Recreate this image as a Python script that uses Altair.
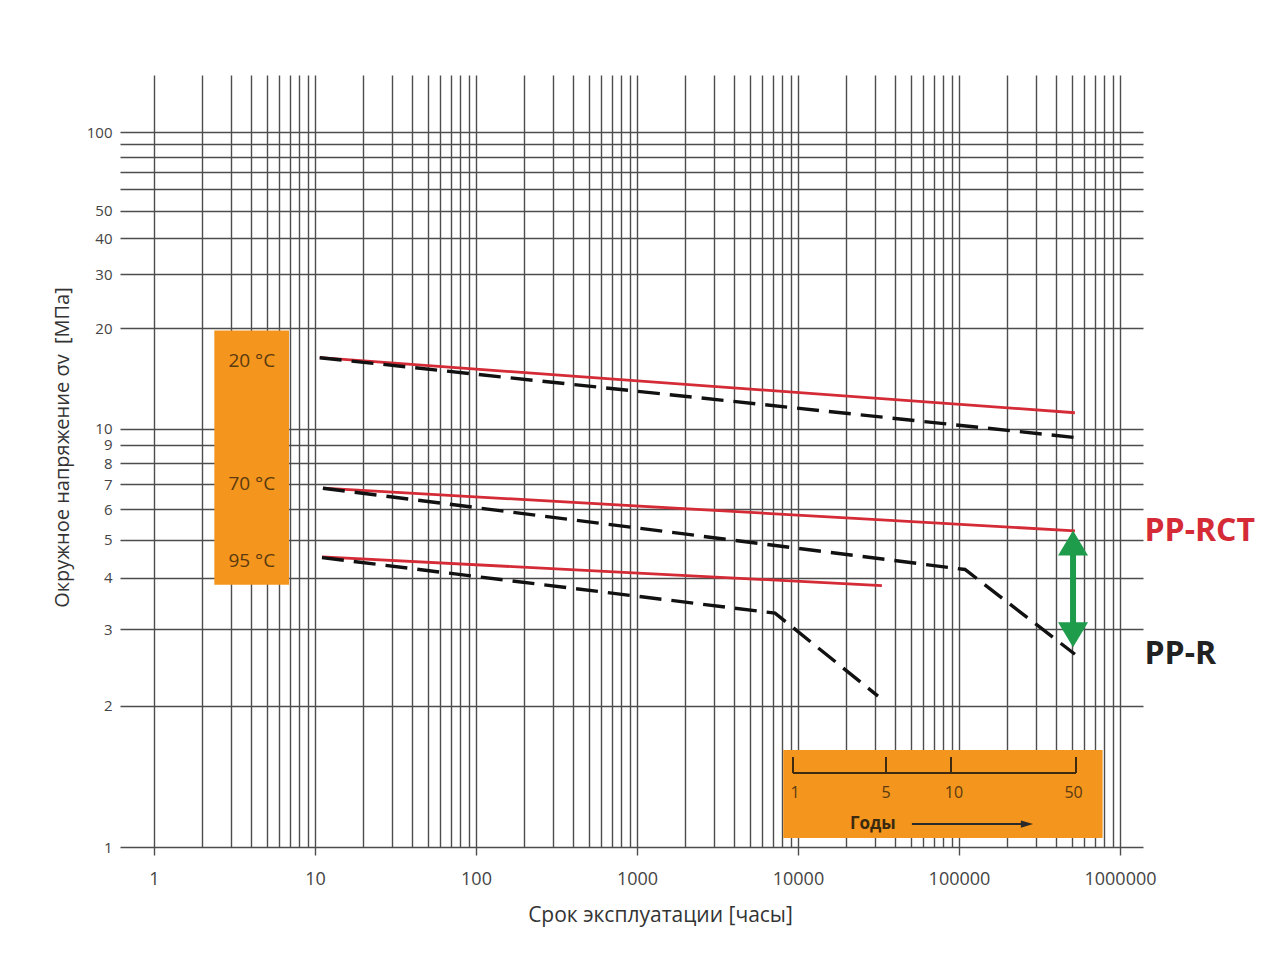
import altair as alt
import pandas as pd

# ---------------- data ----------------
temps = ["20 °C", "70 °C", "95 °C"]

# PP-RCT (red solid) – hours / hoop stress [MPa]
rct_hours = [[10.7, 525000], [11.2, 525000], [11.05, 33200]]
rct_stress = [[16.2, 11.1], [6.83, 5.27], [4.52, 3.83]]

# PP-R (black dashed) – hours / hoop stress [MPa]
ppr_hours = [[10.7, 525000], [11.2, 109000, 525000], [11.05, 7200, 31400]]
ppr_stress = [[16.2, 9.43], [6.83, 4.20, 2.62], [4.50, 3.28, 2.10]]

# axis ticks
x_decades = [1, 10, 100, 1000, 10000, 100000, 1000000]
x_grid = [m * d for d in [1, 10, 100, 1000, 10000, 100000] for m in range(1, 10)] + [1000000]
y_grid = [1, 2, 3, 4, 5, 6, 7, 8, 9, 10, 20, 30, 40, 50, 60, 70, 80, 90, 100]
y_hidden = [60, 70, 80, 90]

# temperature box (left)
temp_box_hours = [2.37, 6.9]
temp_box_stress = [3.85, 19.7]
temp_label_hours = 4.05
temp_label_stress = [15.8, 7.0, 4.4]

# years inset (bottom right)
years_box_hours = [8100, 780000]
years_box_stress = [1.043, 1.596]
year_labels = ["1", "5", "10", "50"]
year_tick_hours = [9310, 35200, 89200, 533000]
year_label_hours = [9600, 35200, 93000, 515000]
ruler_stress = 1.424
ruler_tick_top = 1.541
year_label_stress = 1.292
years_word = "Годы"
years_word_pos = (29200, 1.1135)
years_arrow_hours = [51000, 255000]
years_arrow_head_hours = 264500

# green arrow between PP-RCT and PP-R at 70 °C
green_arrow_hours = 511000
green_arrow_stress = [4.83, 2.95]

# material labels
mat_labels = ["PP-RCT", "PP-R"]
mat_label_hours = 1.42e6
mat_label_stress = [5.27, 2.62]
mat_colors = ["#d42b37", "#222222"]

RED = "#d42b37"
BLACK = "#111111"
ORANGE = "#f4951d"
BROWN = "#5a3a10"
GREEN = "#1e9b4b"
GRID = "#4d4d4d"
FONT = "Open Sans"

# ---------------- tables ----------------
rows = []
for t, hs, ss in zip(temps, rct_hours, rct_stress):
    for h, s in zip(hs, ss):
        rows.append({"x": h, "y": s, "series": "PP-RCT " + t})
df_rct = pd.DataFrame(rows)

rows = []
for t, hs, ss in zip(temps, ppr_hours, ppr_stress):
    for h, s in zip(hs, ss):
        rows.append({"x": h, "y": s, "series": "PP-R " + t})
df_ppr = pd.DataFrame(rows)

xs = alt.Scale(type="log", domain=[0.615, 1.39e6], nice=False)
ys = alt.Scale(type="pow", exponent=-0.15, domain=[1, 174], nice=False, zero=False)

decade_test = "indexof([1,10,100,1000,10000,100000,1000000], datum.value) >= 0"

x_axis = alt.Axis(
    values=x_grid,
    grid=True, gridColor=GRID, gridWidth=1.4, gridOpacity=1,
    domain=False,
    ticks=True, tickSize=8, tickColor=GRID, tickWidth=1.4,
    tickOpacity={"condition": {"test": decade_test, "value": 1}, "value": 0},
    labelExpr=decade_test + " ? format(datum.value, 'd') : ''",
    labelOverlap=False, labelFlush=False, labelBound=False,
    labelFont=FONT, labelFontSize=18, labelColor="#444444", labelPadding=15,
    title="Срок эксплуатации [часы]",
    titleFont=FONT, titleFontSize=21, titleFontWeight="normal", titleColor="#333333",
    titleX=540, titleY=68, titleAlign="center", titleBaseline="middle",
)
y_axis = alt.Axis(
    values=y_grid,
    grid=True, gridColor=GRID, gridWidth=1.4, gridOpacity=1,
    domain=False, ticks=False,
    labelExpr="indexof([60,70,80,90], datum.value) >= 0 ? '' : datum.value",
    labelOverlap=False, labelFlush=False, labelBound=False,
    labelFont=FONT, labelFontSize=15, labelColor="#444444", labelPadding=8,
    title="Окружное напряжение σv\u00a0 [МПа]",
    titleFont=FONT, titleFontSize=20, titleFontWeight="normal", titleColor="#333333",
    titleX=-58, titleY=372, titleAngle=270, titleAlign="center", titleBaseline="middle",
)


def X(field="x", axis=alt.Undefined):
    return alt.X(field, type="quantitative", scale=xs, axis=axis)


def Y(field="y", axis=alt.Undefined):
    return alt.Y(field, type="quantitative", scale=ys, axis=axis)


# red PP-RCT lines (carry the axes)
red = alt.Chart(df_rct).mark_line(color=RED, strokeWidth=2.8).encode(
    x=X(axis=x_axis), y=Y(axis=y_axis), detail="series:N"
)
black = alt.Chart(df_ppr).mark_line(color=BLACK, strokeWidth=3.4, strokeDash=[22, 10]).encode(
    x=X(), y=Y(), detail="series:N"
)

# left temperature box
df_tbox = pd.DataFrame({"x": [temp_box_hours[0]], "x2": [temp_box_hours[1]],
                        "y": [temp_box_stress[0]], "y2": [temp_box_stress[1]]})
tbox = alt.Chart(df_tbox).mark_rect(color=ORANGE).encode(
    x=X(), x2="x2", y=Y(), y2="y2"
)
df_tlab = pd.DataFrame({"x": [temp_label_hours] * 3, "y": temp_label_stress, "t": temps})
tlab = alt.Chart(df_tlab).mark_text(font=FONT, fontSize=19, color=BROWN, align="center",
                                    baseline="middle").encode(x=X(), y=Y(), text="t:N")

# years inset
df_ybox = pd.DataFrame({"x": [years_box_hours[0]], "x2": [years_box_hours[1]],
                        "y": [years_box_stress[0]], "y2": [years_box_stress[1]]})
ybox = alt.Chart(df_ybox).mark_rect(color=ORANGE).encode(x=X(), x2="x2", y=Y(), y2="y2")

df_ruler = pd.DataFrame({"x": [year_tick_hours[0]], "x2": [year_tick_hours[-1]], "y": [ruler_stress]})
ruler = alt.Chart(df_ruler).mark_rule(color="#3d2a10", strokeWidth=2).encode(x=X(), x2="x2", y=Y())

df_rticks = pd.DataFrame({"x": year_tick_hours, "y": [ruler_stress] * 4, "y2": [ruler_tick_top] * 4})
rticks = alt.Chart(df_rticks).mark_rule(color="#3d2a10", strokeWidth=2).encode(x=X(), y=Y(), y2="y2")

df_ylab = pd.DataFrame({"x": year_label_hours, "y": [year_label_stress] * 4, "t": year_labels})
ylab = alt.Chart(df_ylab).mark_text(font=FONT, fontSize=16, color=BROWN, align="center",
                                    baseline="middle").encode(x=X(), y=Y(), text="t:N")

df_word = pd.DataFrame({"x": [years_word_pos[0]], "y": [years_word_pos[1]], "t": [years_word]})
word = alt.Chart(df_word).mark_text(font=FONT, fontSize=17, fontWeight="bold", color="#3a2a10",
                                    align="center", baseline="middle").encode(x=X(), y=Y(), text="t:N")

df_yarrow = pd.DataFrame({"x": [years_arrow_hours[0]], "x2": [years_arrow_hours[1]],
                          "y": [years_word_pos[1]]})
yarrow = alt.Chart(df_yarrow).mark_rule(color="#2a2a2a", strokeWidth=2).encode(x=X(), x2="x2", y=Y())
df_yhead = pd.DataFrame({"x": [years_arrow_head_hours], "y": [years_word_pos[1]]})
yhead = alt.Chart(df_yhead).mark_point(shape="M1,0L-1,-0.6L-1,0.6Z", size=150, filled=True,
                                       color="#2a2a2a", opacity=1, strokeWidth=0).encode(x=X(), y=Y())

# green double arrow
df_garrow = pd.DataFrame({"x": [green_arrow_hours], "y": [green_arrow_stress[0]],
                          "y2": [green_arrow_stress[1]]})
gshaft = alt.Chart(df_garrow).mark_rule(color=GREEN, strokeWidth=6).encode(x=X(), y=Y(), y2="y2")
df_gtop = pd.DataFrame({"x": [green_arrow_hours], "y": [green_arrow_stress[0]]})
gtop = alt.Chart(df_gtop).mark_point(shape="M0,-1L1,0.667L-1,0.667Z", size=900, filled=True,
                                     color=GREEN, opacity=1, strokeWidth=0).encode(x=X(), y=Y())
df_gbot = pd.DataFrame({"x": [green_arrow_hours], "y": [green_arrow_stress[1]]})
gbot = alt.Chart(df_gbot).mark_point(shape="M0,1L1,-0.667L-1,-0.667Z", size=900, filled=True,
                                     color=GREEN, opacity=1, strokeWidth=0).encode(x=X(), y=Y())

# material labels
df_mat = pd.DataFrame({"x": [mat_label_hours] * 2, "y": mat_label_stress, "t": mat_labels,
                       "c": mat_colors})
mat = alt.Chart(df_mat).mark_text(font=FONT, fontSize=32,
                                  fontWeight="bold", align="left", baseline="middle").encode(
    x=X(), y=Y(), text="t:N", color=alt.Color("c:N", scale=None)
)

chart = alt.layer(
    red, black, tbox, ybox, tlab, ruler, rticks, ylab, word, yarrow, yhead,
    gshaft, gtop, gbot, mat
).properties(
    width=1023, height=772,
    autosize=alt.AutoSizeParams(type="none"),
    padding={"left": 112, "top": 67, "right": 118, "bottom": 90},
    background="white",
).configure_view(stroke=None)

chart.save("out.html", embed_options={"renderer": "svg", "actions": False})
